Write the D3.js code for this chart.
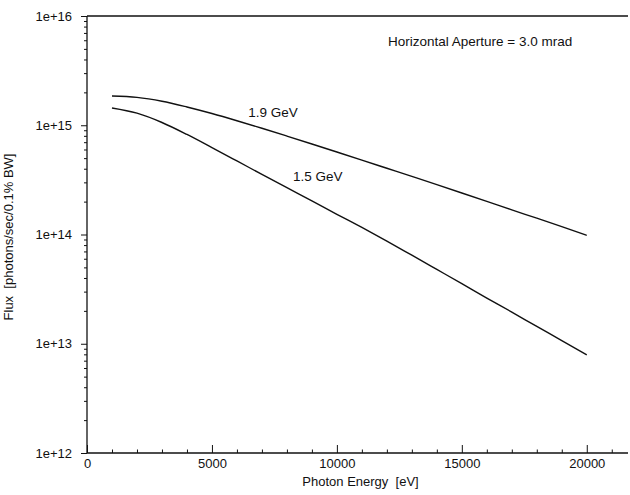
<!DOCTYPE html>
<html>
<head>
<meta charset="utf-8">
<script src="https://cdn.jsdelivr.net/npm/d3@7"></script>
<style>
  html, body { margin: 0; padding: 0; background: #fff; }
  svg { display: block; }
  text { font-family: "Liberation Sans", Arial, Helvetica, sans-serif; fill: #111; white-space: pre; }
</style>
</head>
<body>
<svg id="chart" width="630" height="495"></svg>
<script>
// ---- data ----
const energy = [1000, 2000, 3000, 4000, 5000, 6000, 7000, 8000, 9000, 10000,
                11000, 12000, 13000, 14000, 15000, 16000, 17000, 18000, 19000, 20000];
const flux19 = [1.85e15, 1.80e15, 1.66e15, 1.47e15, 1.28e15, 1.10e15, 9.38e14, 7.96e14, 6.74e14, 5.69e14,
                4.80e14, 4.04e14, 3.40e14, 2.86e14, 2.40e14, 2.01e14, 1.68e14, 1.41e14, 1.18e14, 9.83e13];
const flux15 = [1.44e15, 1.29e15, 1.06e15, 8.23e14, 6.24e14, 4.71e14, 3.55e14, 2.68e14, 2.03e14, 1.53e14,
                1.16e14, 8.7e13, 6.46e13, 4.79e13, 3.55e13, 2.62e13, 1.95e13, 1.44e13, 1.07e13, 7.9e12];
const seriesNames = ["1.9 GeV", "1.5 GeV"];
const xMajorTicks = [0, 5000, 10000, 15000, 20000];
const yMajorTicks = [1e12, 1e13, 1e14, 1e15, 1e16];
const xTitle = "Photon Energy  [eV]";
const yTitle = "Flux  [photons/sec/0.1% BW]";
const note = "Horizontal Aperture = 3.0 mrad";

// ---- layout ----
const svg = d3.select("#chart");
const pL = 87, pR = 628, pT = 16, pB = 453;
const x = d3.scaleLinear().domain([0, 21650]).range([pL, pR]);
const y = d3.scaleLog().domain([1e12, 1e16]).range([pB, pT]);

const xMinor = d3.range(0, 21001, 1000).filter(v => v % 5000 !== 0);
const yMinor = [];
yMajorTicks.slice(0, -1).forEach(d => { for (let k = 2; k <= 9; k++) yMinor.push(d * k); });

const FS = 13;

// x axis (ticks pointing inward/up)
const gx = svg.append("g").attr("transform", `translate(0,${pB})`);
gx.call(d3.axisBottom(x).tickValues(xMajorTicks).tickSizeInner(-8).tickSizeOuter(0).tickPadding(6)
  .tickFormat(d3.format("d")));
gx.append("g").call(d3.axisBottom(x).tickValues(xMinor).tickSizeInner(-3.5).tickSizeOuter(0).tickFormat(""));
gx.selectAll(".domain").remove();
gx.append("line").attr("x1", pL).attr("x2", pR).attr("stroke", "#111").attr("stroke-width", 1.3);

// y axis (ticks pointing outward/left)
const gy = svg.append("g").attr("transform", `translate(${pL},0)`);
gy.call(d3.axisLeft(y).tickValues(yMajorTicks).tickSizeInner(6).tickSizeOuter(0).tickPadding(9)
  .tickFormat(d3.format(".0e")));
gy.append("g").call(d3.axisLeft(y).tickValues(yMinor).tickSizeInner(3).tickSizeOuter(0).tickFormat(""));
gy.selectAll(".domain").remove();
gy.append("line").attr("y1", pT).attr("y2", pB).attr("stroke", "#111").attr("stroke-width", 1.3);

svg.selectAll(".tick line").attr("stroke", "#111").attr("stroke-width", 1);
svg.selectAll(".tick text").attr("font-size", FS).attr("fill", "#111")
  .style("font-family", '"Liberation Sans", Arial, Helvetica, sans-serif');

// top frame line
svg.append("line").attr("x1", pL).attr("x2", pR).attr("y1", pT).attr("y2", pT)
  .attr("stroke", "#111").attr("stroke-width", 1.3);

// curves
const line = d3.line().x(d => x(d[0])).y(d => y(d[1])).curve(d3.curveMonotoneX);
[flux19, flux15].forEach(vals => {
  svg.append("path").datum(energy.map((e, i) => [e, vals[i]]))
    .attr("d", line).attr("fill", "none").attr("stroke", "#111").attr("stroke-width", 1.4);
});

// annotations
svg.append("text").attr("x", x(6450)).attr("y", y(1.19e15)).attr("font-size", FS + 0.5).text(seriesNames[0]);
svg.append("text").attr("x", x(8244)).attr("y", y(3.09e14)).attr("font-size", FS + 0.5).text(seriesNames[1]);
svg.append("text").attr("x", x(12046)).attr("y", y(5.26e15)).attr("font-size", FS + 0.5).text(note);

// axis titles
svg.append("text").attr("x", (pL + pR) / 2 + 3).attr("y", 486).attr("text-anchor", "middle")
  .attr("font-size", FS).text(xTitle);
svg.append("text").attr("transform", "translate(13,237) rotate(-90)").attr("text-anchor", "middle")
  .attr("font-size", FS).text(yTitle);
</script>
</body>
</html>
